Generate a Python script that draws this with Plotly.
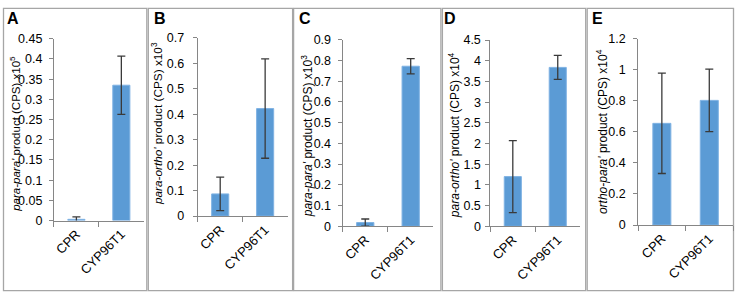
import plotly.graph_objects as go

W, H = 737, 300

categories = ["CPR", "CYP96T1"]

a_means = [0.003, 0.335]
a_errors = [0.006, 0.072]
b_means = [0.087, 0.422]
b_errors = [0.066, 0.195]
c_means = [0.018, 0.772]
c_errors = [0.017, 0.037]
d_means = [1.20, 3.84]
d_errors = [0.87, 0.29]
e_means = [0.655, 0.803]
e_errors = [0.323, 0.201]

panel_letters = ["A", "B", "C", "D", "E"]
y_titles = [
    "<i>para-para'</i> product (CPS) x10<sup>5</sup>",
    "<i>para-ortho'</i> product (CPS) x10<sup>3</sup>",
    "<i>para-para'</i> product (CPS) x10<sup>3</sup>",
    "<i>para-ortho'</i> product (CPS) x10<sup>4</sup>",
    "<i>ortho-para'</i> product (CPS) x10<sup>4</sup>",
]
y_max = [0.45, 0.7, 0.9, 4.5, 1.2]
y_step = [0.05, 0.1, 0.1, 0.5, 0.2]

means = [a_means, b_means, c_means, d_means, e_means]
errors = [a_errors, b_errors, c_errors, d_errors, e_errors]

# layout (pixel positions)
x_dom_px = [(53, 143), (197, 287), (342, 433), (490, 580), (638, 733)]
y_dom_px = [(224, 33.3), (219.3, 32.3), (230, 34.3), (230, 34.7), (228.7, 33.3)]
box_px = [(2.5, 146), (147.5, 292), (293, 440.5), (442, 585.5), (587, 733.5)]
letter_px = [(4, 1), (151, 1), (296, 1), (442, 1), (590, 1)]
ytitle_px = [(14, 133), (157, 122), (306, 136), (453, 134), (602, 131)]
ytitle_size = [11.5, 11.8, 12, 12, 12]
label_standoff = [4, 6, 4, 2, 5]

FONT = "Liberation Sans, Arial, sans-serif"
BAR = "#5B9BD5"
AXIS = "#868686"

fig = go.Figure()
layout = dict(
    width=W, height=H,
    margin=dict(l=0, r=0, t=0, b=0),
    paper_bgcolor="white", plot_bgcolor="white",
    showlegend=False,
    font=dict(family=FONT, size=12, color="black"),
    shapes=[], annotations=[],
)

for i in range(5):
    sx = "" if i == 0 else str(i + 1)
    fig.add_trace(go.Bar(
        x=categories, y=means[i],
        xaxis="x" + sx, yaxis="y" + sx,
        width=0.38,
        marker=dict(color=BAR, line=dict(color="#7FB2E3", width=1)),
        error_y=dict(type="data", array=errors[i], visible=True,
                     color="#3A3A3A", thickness=1.3, width=4),
    ))
    x0, x1 = x_dom_px[i]
    yb, yt = y_dom_px[i]
    layout["xaxis" + sx] = dict(
        domain=[x0 / W, x1 / W], anchor="y" + sx, type="category",
        showline=True, linecolor=AXIS, linewidth=1,
        ticks="outside", tickson="boundaries", ticklen=5, tickcolor=AXIS,
        tickangle=-45, tickfont=dict(size=13, family=FONT, color="black"),
        showgrid=False, zeroline=False, range=[-0.5, 1.5], fixedrange=True,
    )
    layout["yaxis" + sx] = dict(
        domain=[1 - yb / H, 1 - yt / H], anchor="x" + sx,
        range=[0, y_max[i]], dtick=y_step[i], tick0=0,
        showline=True, linecolor=AXIS, linewidth=1,
        ticks="outside", ticklen=4, tickcolor=AXIS,
        ticklabelstandoff=label_standoff[i],
        tickfont=dict(size=12.5, family=FONT, color="black"),
        showgrid=False, zeroline=False, fixedrange=True,
    )
    bx0, bx1 = box_px[i]
    layout["shapes"].append(dict(
        type="rect", xref="paper", yref="paper",
        x0=bx0 / W, x1=bx1 / W, y0=1 - 297.5 / H, y1=1 - 1.5 / H,
        line=dict(color="#A6A6A6", width=1.3), fillcolor="rgba(0,0,0,0)",
        layer="below",
    ))
    lx, ly = letter_px[i]
    layout["annotations"].append(dict(
        text="<b>" + panel_letters[i] + "</b>", xref="paper", yref="paper",
        x=lx / W, y=1 - ly / H, xanchor="left", yanchor="top",
        showarrow=False, font=dict(size=16, family=FONT, color="black"),
    ))
    tx, ty = ytitle_px[i]
    layout["annotations"].append(dict(
        text=y_titles[i], xref="paper", yref="paper",
        x=tx / W, y=1 - ty / H, xanchor="center", yanchor="middle",
        textangle=-90, showarrow=False,
        font=dict(size=ytitle_size[i], family=FONT, color="black"),
    ))

fig.update_layout(**layout)
fig.write_html(
    "out.html", include_plotlyjs=True,
    config={"displayModeBar": False},
    post_script="document.body.style.margin='0';document.body.style.overflow='hidden';",
)
